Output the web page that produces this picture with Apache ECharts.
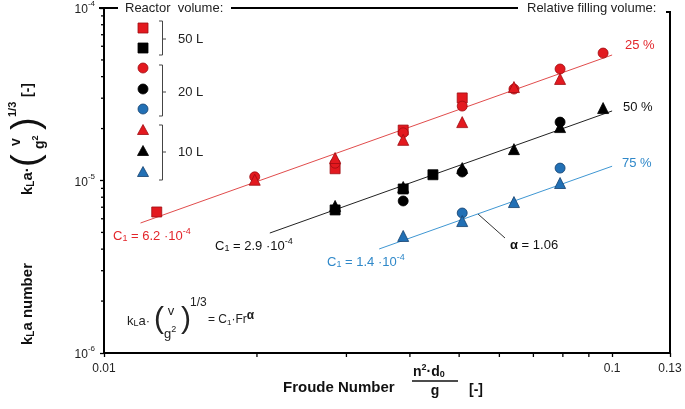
<!DOCTYPE html>
<html><head><meta charset="utf-8">
<script src="https://cdn.jsdelivr.net/npm/echarts@6/dist/echarts.min.js"></script>
<style>html,body{margin:0;padding:0;background:#fff}#c{width:685px;height:409px}</style>
</head><body><div id="c"></div>
<script>
// ---------------- data ----------------
const xTickLabels = ['0.01', '0.1', '0.13'];
const yTickExponents = [-6, -5, -4];
const xMinorTicks = [0.02, 0.03, 0.04, 0.05, 0.06, 0.07, 0.08, 0.09];
const yMinorTicks = [2e-6, 3e-6, 4e-6, 5e-6, 6e-6, 7e-6, 8e-6, 9e-6, 2e-5, 3e-5, 4e-5, 5e-5, 6e-5, 7e-5, 8e-5, 9e-5];

// Froude number , kLa number
const sq50_25 = [[0.0127, 6.57e-6], [0.0285, 1.17e-5], [0.0388, 1.96e-5], [0.0507, 3.01e-5]];
const sq50_50 = [[0.0285, 6.75e-6], [0.0388, 8.93e-6], [0.0444, 1.08e-5]];
const ci20_25 = [[0.0198, 1.05e-5], [0.0285, 1.26e-5], [0.0388, 1.89e-5], [0.0507, 2.70e-5], [0.0641, 3.39e-5], [0.079, 4.43e-5], [0.096, 5.48e-5]];
const ci20_50 = [[0.0388, 7.61e-6], [0.0507, 1.12e-5], [0.079, 2.18e-5]];
const ci20_75 = [[0.0507, 6.48e-6], [0.079, 1.18e-5]];
const tr10_25 = [[0.0198, 1.01e-5], [0.0285, 1.35e-5], [0.0388, 1.72e-5], [0.0507, 2.18e-5], [0.0641, 3.48e-5], [0.079, 3.88e-5]];
const tr10_50 = [[0.0285, 7.12e-6], [0.0388, 9.17e-6], [0.0507, 1.18e-5], [0.0641, 1.52e-5], [0.079, 2.04e-5], [0.096, 2.63e-5]];
const tr10_75 = [[0.0388, 4.77e-6], [0.0507, 5.82e-6], [0.0641, 7.50e-6], [0.079, 9.67e-6]];

// fit lines (end points)
const fit25 = [[0.0118, 5.67e-6], [0.1, 5.34e-5]];
const fit50 = [[0.0212, 4.96e-6], [0.1, 2.53e-5]];
const fit75 = [[0.0348, 4.01e-6], [0.1, 1.21e-5]];

// ---------------- styles ----------------
const FONT = '"Liberation Sans", Arial, Helvetica, sans-serif';
const RED = '#e3191f', RED_B = '#9e0d12', RED_L = '#e14c4c', RED_T = '#e3262b';
const BLUE = '#2270b5', BLUE_B = '#14406d', BLUE_L = '#3f97d3', BLUE_T = '#2f88c9';
const BLK = '#000', TXT = '#222';
const L = 104, R = 670, T = 8, B = 353;

const mctx = document.createElement('canvas').getContext('2d');
function fontStr(size, weight) { return (weight || 'normal') + ' ' + size + 'px ' + FONT; }
function tw(t, size, weight) { mctx.font = fontStr(size, weight); return mctx.measureText(t).width; }
// lay out pieces [text, size, weight, dy] horizontally
function seq(items, x0, y0, color) {
  let x = x0; const out = [];
  items.forEach(it => {
    const [t, size, weight, dy] = it;
    out.push({ type: 'text', x: x, y: y0 + (dy || 0), silent: true,
      style: { text: t, font: fontStr(size, weight), fill: color, align: 'left', verticalAlign: 'middle' } });
    x += tw(t, size, weight);
  });
  return out;
}
function txt(t, x, y, size, color, weight, align) {
  return { type: 'text', x: x, y: y, silent: true,
    style: { text: t, font: fontStr(size, weight), fill: color, align: align || 'left', verticalAlign: 'middle' } };
}
function pl(points, color, w) {
  return { type: 'polyline', silent: true, shape: { points: points }, style: { stroke: color, lineWidth: w || 1, fill: null } };
}

function scatter(name, data, symbol, fill, border, size) {
  return { name, type: 'scatter', data, symbol, symbolSize: size || 10,
    itemStyle: { color: fill, borderColor: border, borderWidth: 0.8, opacity: 1 }, z: 5, silent: true };
}
function fitLine(data, color) {
  return { type: 'line', data, showSymbol: false, symbol: 'none', lineStyle: { color, width: 1 }, z: 3, silent: true, animation: false };
}
function tickSeries(data, dx, dy) {
  return { type: 'custom', coordinateSystem: 'cartesian2d', clip: false, silent: true, z: 2, data,
    renderItem: (params, api) => {
      const p = api.coord([api.value(0), api.value(1)]);
      return { type: 'line', shape: { x1: p[0], y1: p[1], x2: p[0] + dx, y2: p[1] + dy }, style: { stroke: '#000', lineWidth: 1.3 } };
    } };
}

// ---------------- graphic elements ----------------
const g = [];
// frame pieces
g.push(pl([[99, T], [118, T]], '#000', 2));
g.push(pl([[231, T], [518, T]], '#000', 2));
g.push(pl([[666, 12], [R, 12], [R, B]], '#000', 2));
// header texts
g.push(txt('Reactor  volume:', 125, 8, 13, TXT));
g.push(txt('Relative filling volume:', 527, 8, 13, TXT));
// legend keys
const lx = 143;
g.push({ type: 'rect', silent: true, shape: { x: lx - 5, y: 28 - 5, width: 10, height: 10 }, style: { fill: RED, stroke: RED_B, lineWidth: 0.8 } });
g.push({ type: 'rect', silent: true, shape: { x: lx - 5, y: 48 - 5, width: 10, height: 10 }, style: { fill: BLK, stroke: BLK, lineWidth: 0.8 } });
g.push({ type: 'circle', silent: true, shape: { cx: lx, cy: 68, r: 5 }, style: { fill: RED, stroke: RED_B, lineWidth: 0.8 } });
g.push({ type: 'circle', silent: true, shape: { cx: lx, cy: 89, r: 5 }, style: { fill: BLK, stroke: BLK, lineWidth: 0.8 } });
g.push({ type: 'circle', silent: true, shape: { cx: lx, cy: 109, r: 5 }, style: { fill: BLUE, stroke: BLUE_B, lineWidth: 0.8 } });
[[130, RED, RED_B], [151, BLK, BLK], [172, BLUE, BLUE_B]].forEach(([cy, f, s]) => {
  g.push({ type: 'polygon', silent: true, shape: { points: [[lx, cy - 5.5], [lx + 5.5, cy + 4.5], [lx - 5.5, cy + 4.5]] }, style: { fill: f, stroke: s, lineWidth: 0.8 } });
});
// brackets
[[21, 55, 39, '50 L'], [65, 116, 92, '20 L'], [125, 180, 152, '10 L']].forEach(([y1, y2, ym, lab]) => {
  g.push(pl([[159, y1], [162.5, y1], [162.5, y2], [159, y2]], '#444', 1));
  g.push(pl([[162.5, ym], [166, ym]], '#444', 1));
  g.push(txt(lab, 178, ym, 13, TXT));
});
// series labels
g.push(txt('25 %', 625, 45, 13, RED_T));
g.push(txt('50 %', 623, 107, 13, '#111'));
g.push(txt('75 %', 622, 163, 13, BLUE_T));
// C1 labels
function c1(val, x, y, col) {
  return seq([['C', 13], ['1', 9, 'normal', 3], [' = ' + val + ' ·10', 13], ['-4', 9, 'normal', -4]], x, y, col);
}
g.push(...c1('6.2', 113, 236, RED_T));
g.push(...c1('2.9', 215, 246, '#111'));
g.push(...c1('1.4', 327, 262, BLUE_T));
// alpha annotation
g.push(pl([[478, 214], [505, 238]], '#333', 1));
g.push(...seq([['α', 13, 'bold'], [' = 1.06', 13]], 510, 245, '#111'));
// formula box
g.push(...seq([['k', 13], ['L', 9, 'normal', 3], ['a·', 13]], 127, 321, TXT));
g.push(txt('(', 154, 320, 30, TXT));
g.push(txt('v', 171, 311, 13, TXT, 'normal', 'center'));
g.push(...seq([['g', 13], ['2', 9, 'normal', -4]], 164, 334, TXT));
g.push(txt(')', 181, 320, 30, TXT));
g.push(txt('1/3', 190, 303, 12, TXT));
g.push(...seq([['= C', 12], ['1', 8, 'normal', 3], ['·Fr', 12], ['α', 12, 'bold', -4]], 208, 320, TXT));
// x axis title
g.push(txt('Froude Number', 283, 388, 15, '#111', 'bold'));
g.push(...seq([['n', 14, 'bold'], ['2', 9, 'bold', -4], ['·d', 14, 'bold'], ['0', 9, 'bold', 3]], 413, 372, '#111'));
g.push(pl([[412, 381], [458, 381]], '#111', 1.3));
g.push(txt('g', 435, 391, 14, '#111', 'bold', 'center'));
g.push(txt('[-]', 469, 390, 14, '#111', 'bold'));
// y axis title (rotated group; local x = 400 - screenY, local y = screenX - 28)
const yt = [];
yt.push(...seq([['k', 15, 'bold'], ['L', 10, 'bold', 3], ['a number', 15, 'bold']], 55, 0, '#111'));
yt.push(...seq([['k', 15, 'bold'], ['L', 10, 'bold', 3], ['a·', 15, 'bold']], 205, 0, '#111'));
yt.push(txt('(', 233, 0, 38, '#111'));
yt.push(txt('v', 258, -12, 14, '#111', 'bold', 'center'));
yt.push(...seq([['g', 14, 'bold'], ['2', 9, 'bold', -4]], 251, 12, '#111'));
yt.push(txt(')', 270, 0, 38, '#111'));
yt.push(txt('1/3', 283, -15, 11, '#111', 'bold'));
yt.push(txt('[-]', 303, 0, 14, '#111', 'bold'));
g.push({ type: 'group', x: 28, y: 400, rotation: Math.PI / 2, children: yt });

// ---------------- chart ----------------
const chart = echarts.init(document.getElementById('c'));
chart.setOption({
  animation: false,
  backgroundColor: '#fff',
  grid: { left: L, top: T, width: R - L, height: B - T },
  xAxis: {
    type: 'log', logBase: 10, min: 0.01, max: 0.13,
    axisLine: { lineStyle: { color: '#000', width: 2 } },
    axisTick: { show: true, inside: false, length: 4, lineStyle: { color: '#000', width: 1.3 } },
    splitLine: { show: false }, minorTick: { show: false },
    axisLabel: {
      show: true, margin: 10, fontSize: 12, color: TXT, fontFamily: FONT,
      showMinLabel: true, showMaxLabel: true,
      formatter: v => xTickLabels.find(s => Math.abs(Math.log10(+s) - Math.log10(v)) < 0.01) || ''
    }
  },
  yAxis: {
    type: 'log', logBase: 10, min: 1e-6, max: 1e-4,
    axisLine: { lineStyle: { color: '#000', width: 2 } },
    axisTick: { show: true, inside: false, length: 4, lineStyle: { color: '#000', width: 1.3 } },
    splitLine: { show: false },
    axisLabel: {
      show: true, margin: 9, color: TXT, fontFamily: FONT,
      formatter: v => {
        const e = yTickExponents.find(k => Math.abs(Math.log10(v) - k) < 0.01);
        return e === undefined ? '' : '{b|10}{s|' + e + '}';
      },
      rich: {
        b: { fontSize: 12, lineHeight: 16, verticalAlign: 'bottom', fontFamily: FONT, color: TXT },
        s: { fontSize: 8, lineHeight: 10, verticalAlign: 'top', fontFamily: FONT, color: TXT }
      }
    }
  },
  series: [
    tickSeries(xMinorTicks.map(v => [v, 1e-6]), 0, 4),
    tickSeries(yMinorTicks.map(v => [0.01, v]), -3, 0),
    fitLine(fit25, RED_L),
    fitLine(fit50, '#222'),
    fitLine(fit75, BLUE_L),
    scatter('50 L, 25 %', sq50_25, 'rect', RED, RED_B),
    scatter('50 L, 50 %', sq50_50, 'rect', BLK, BLK),
    scatter('20 L, 25 %', ci20_25, 'circle', RED, RED_B),
    scatter('20 L, 50 %', ci20_50, 'circle', BLK, BLK),
    scatter('20 L, 75 %', ci20_75, 'circle', BLUE, BLUE_B),
    scatter('10 L, 25 %', tr10_25, 'triangle', RED, RED_B, 11),
    scatter('10 L, 50 %', tr10_50, 'triangle', BLK, BLK, 11),
    scatter('10 L, 75 %', tr10_75, 'triangle', BLUE, BLUE_B, 11)
  ],
  graphic: { elements: g }
});
</script>
</body></html>
